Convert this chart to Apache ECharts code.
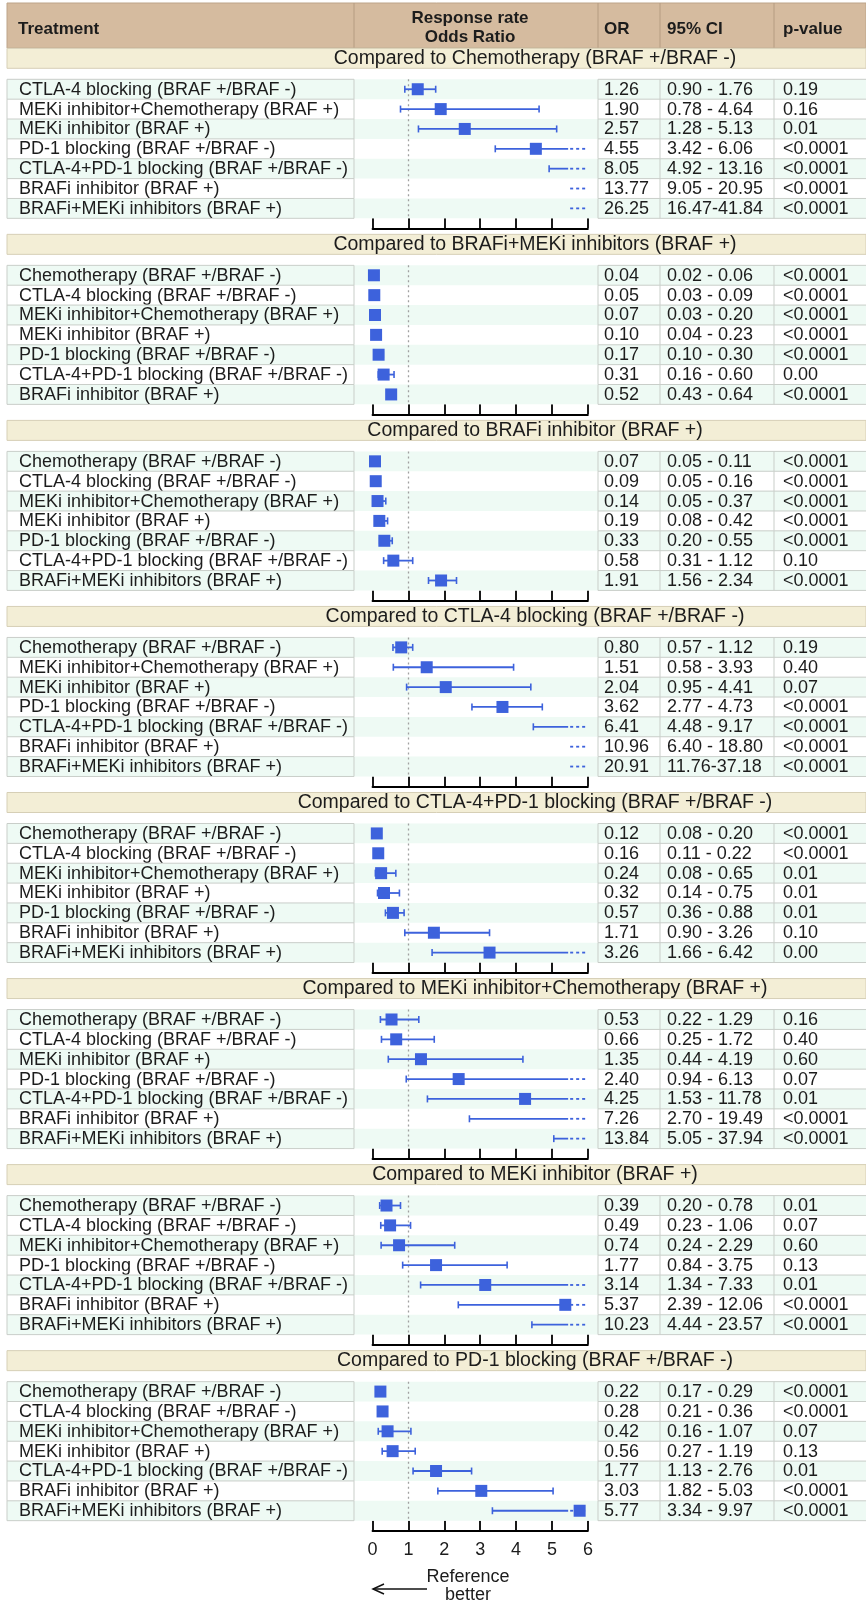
<!DOCTYPE html>
<html><head><meta charset="utf-8">
<script src="https://cdn.jsdelivr.net/npm/echarts@6/dist/echarts.min.js"></script>
<style>html,body{margin:0;padding:0;background:#fff}#c{width:866px;height:1608px}</style>
</head><body><div id="c"></div>
<script>
// ---------------- DATA ----------------
const groupTitles = [
  'Compared to Chemotherapy (BRAF +/BRAF -)',
  'Compared to BRAFi+MEKi inhibitors (BRAF +)',
  'Compared to BRAFi inhibitor (BRAF +)',
  'Compared to CTLA-4 blocking (BRAF +/BRAF -)',
  'Compared to CTLA-4+PD-1 blocking (BRAF +/BRAF -)',
  'Compared to MEKi inhibitor+Chemotherapy (BRAF +)',
  'Compared to MEKi inhibitor (BRAF +)',
  'Compared to PD-1 blocking (BRAF +/BRAF -)'
];
const rowNames = [
  ['CTLA-4 blocking (BRAF +/BRAF -)','MEKi inhibitor+Chemotherapy (BRAF +)','MEKi inhibitor (BRAF +)','PD-1 blocking (BRAF +/BRAF -)','CTLA-4+PD-1 blocking (BRAF +/BRAF -)','BRAFi inhibitor (BRAF +)','BRAFi+MEKi inhibitors (BRAF +)'],
  ['Chemotherapy (BRAF +/BRAF -)','CTLA-4 blocking (BRAF +/BRAF -)','MEKi inhibitor+Chemotherapy (BRAF +)','MEKi inhibitor (BRAF +)','PD-1 blocking (BRAF +/BRAF -)','CTLA-4+PD-1 blocking (BRAF +/BRAF -)','BRAFi inhibitor (BRAF +)'],
  ['Chemotherapy (BRAF +/BRAF -)','CTLA-4 blocking (BRAF +/BRAF -)','MEKi inhibitor+Chemotherapy (BRAF +)','MEKi inhibitor (BRAF +)','PD-1 blocking (BRAF +/BRAF -)','CTLA-4+PD-1 blocking (BRAF +/BRAF -)','BRAFi+MEKi inhibitors (BRAF +)'],
  ['Chemotherapy (BRAF +/BRAF -)','MEKi inhibitor+Chemotherapy (BRAF +)','MEKi inhibitor (BRAF +)','PD-1 blocking (BRAF +/BRAF -)','CTLA-4+PD-1 blocking (BRAF +/BRAF -)','BRAFi inhibitor (BRAF +)','BRAFi+MEKi inhibitors (BRAF +)'],
  ['Chemotherapy (BRAF +/BRAF -)','CTLA-4 blocking (BRAF +/BRAF -)','MEKi inhibitor+Chemotherapy (BRAF +)','MEKi inhibitor (BRAF +)','PD-1 blocking (BRAF +/BRAF -)','BRAFi inhibitor (BRAF +)','BRAFi+MEKi inhibitors (BRAF +)'],
  ['Chemotherapy (BRAF +/BRAF -)','CTLA-4 blocking (BRAF +/BRAF -)','MEKi inhibitor (BRAF +)','PD-1 blocking (BRAF +/BRAF -)','CTLA-4+PD-1 blocking (BRAF +/BRAF -)','BRAFi inhibitor (BRAF +)','BRAFi+MEKi inhibitors (BRAF +)'],
  ['Chemotherapy (BRAF +/BRAF -)','CTLA-4 blocking (BRAF +/BRAF -)','MEKi inhibitor+Chemotherapy (BRAF +)','PD-1 blocking (BRAF +/BRAF -)','CTLA-4+PD-1 blocking (BRAF +/BRAF -)','BRAFi inhibitor (BRAF +)','BRAFi+MEKi inhibitors (BRAF +)'],
  ['Chemotherapy (BRAF +/BRAF -)','CTLA-4 blocking (BRAF +/BRAF -)','MEKi inhibitor+Chemotherapy (BRAF +)','MEKi inhibitor (BRAF +)','CTLA-4+PD-1 blocking (BRAF +/BRAF -)','BRAFi inhibitor (BRAF +)','BRAFi+MEKi inhibitors (BRAF +)']
];
const orValues = [
  [1.26,1.90,2.57,4.55,8.05,13.77,26.25],
  [0.04,0.05,0.07,0.10,0.17,0.31,0.52],
  [0.07,0.09,0.14,0.19,0.33,0.58,1.91],
  [0.80,1.51,2.04,3.62,6.41,10.96,20.91],
  [0.12,0.16,0.24,0.32,0.57,1.71,3.26],
  [0.53,0.66,1.35,2.40,4.25,7.26,13.84],
  [0.39,0.49,0.74,1.77,3.14,5.37,10.23],
  [0.22,0.28,0.42,0.56,1.77,3.03,5.77]
];
const ciLow = [
  [0.90,0.78,1.28,3.42,4.92,9.05,16.47],
  [0.02,0.03,0.03,0.04,0.10,0.16,0.43],
  [0.05,0.05,0.05,0.08,0.20,0.31,1.56],
  [0.57,0.58,0.95,2.77,4.48,6.40,11.76],
  [0.08,0.11,0.08,0.14,0.36,0.90,1.66],
  [0.22,0.25,0.44,0.94,1.53,2.70,5.05],
  [0.20,0.23,0.24,0.84,1.34,2.39,4.44],
  [0.17,0.21,0.16,0.27,1.13,1.82,3.34]
];
const ciHigh = [
  [1.76,4.64,5.13,6.06,13.16,20.95,41.84],
  [0.06,0.09,0.20,0.23,0.30,0.60,0.64],
  [0.11,0.16,0.37,0.42,0.55,1.12,2.34],
  [1.12,3.93,4.41,4.73,9.17,18.80,37.18],
  [0.20,0.22,0.65,0.75,0.88,3.26,6.42],
  [1.29,1.72,4.19,6.13,11.78,19.49,37.94],
  [0.78,1.06,2.29,3.75,7.33,12.06,23.57],
  [0.29,0.36,1.07,1.19,2.76,5.03,9.97]
];
const pLabels = [
  ['0.19','0.16','0.01','<0.0001','<0.0001','<0.0001','<0.0001'],
  ['<0.0001','<0.0001','<0.0001','<0.0001','<0.0001','0.00','<0.0001'],
  ['<0.0001','<0.0001','<0.0001','<0.0001','<0.0001','0.10','<0.0001'],
  ['0.19','0.40','0.07','<0.0001','<0.0001','<0.0001','<0.0001'],
  ['<0.0001','<0.0001','0.01','0.01','0.01','0.10','0.00'],
  ['0.16','0.40','0.60','0.07','0.01','<0.0001','<0.0001'],
  ['0.01','0.07','0.60','0.13','0.01','<0.0001','<0.0001'],
  ['<0.0001','<0.0001','0.07','0.13','0.01','<0.0001','<0.0001']
];
const xTicks = [0,1,2,3,4,5,6];
const headerLabels = ['Treatment','Response rate\nOdds Ratio','OR','95% CI','p-value'];
const refLabel = 'Reference\nbetter';

// ---------------- LAYOUT ----------------
const FONT = "'Liberation Sans', Arial, sans-serif";
const ROW0 = 79.3, PERIOD = 186.05, ROWH = 19.86, NROW = 7;
const X0 = 372.5, UNIT = 35.9;
const XMIN = xTicks[0], XMAX = xTicks[xTicks.length-1];
const TAIL = 5.45;
const TL = 7, TR = 866, C1 = 354, C2 = 598, C3 = 660, C4 = 774;
const BLUE = '#3d62dc', MINT = '#eefaf4', GRID = '#c9cec9', TXT = '#1c1c1c';

function ciText(lo, hi){
  return (lo >= 10 && hi >= 10) ? lo.toFixed(2)+'-'+hi.toFixed(2) : lo.toFixed(2)+' - '+hi.toFixed(2);
}
function txt(x, y, s, font, align){
  return {type:'text', silent:true, style:{x:x, y:y, text:s, font:font, fill:TXT,
    textAlign:align||'left', textVerticalAlign:'middle', align:align||'left', verticalAlign:'middle'}};
}
function ln(x1,y1,x2,y2,color,w,dash){
  return {type:'line', silent:true, shape:{x1:x1,y1:y1,x2:x2,y2:y2},
    style:{stroke:color, lineWidth:w, lineDash:dash||null}};
}

const grids = [], xAxes = [], yAxes = [], series = [], graphics = [];

// header
graphics.push({type:'rect', shape:{x:TL, y:3, width:TR-TL, height:45}, style:{fill:'#d5bb9f', stroke:'#bda489', lineWidth:1}, silent:true});
[C1,C2,C3,C4].forEach(x => graphics.push(ln(x,3,x,48,'#b59c81',1)));
const hb = 'bold 17px ' + FONT;
graphics.push(txt(18, 29, headerLabels[0], hb));
graphics.push({type:'text', silent:true, style:{x:470, y:28, text:headerLabels[1], font:hb, fill:TXT, lineHeight:19,
  textAlign:'center', textVerticalAlign:'middle', align:'center', verticalAlign:'middle'}});
graphics.push(txt(604, 29, headerLabels[2], hb));
graphics.push(txt(667, 29, headerLabels[3], hb));
graphics.push(txt(783, 29, headerLabels[4], hb));

for (let g = 0; g < groupTitles.length; g++) {
  const top = ROW0 + g*PERIOD;
  graphics.push({type:'rect', silent:true, shape:{x:TL, y:top-31, width:TR-TL, height:20},
    style:{fill:'#f3eed6', stroke:'#d6cfb6', lineWidth:1}});
  graphics.push(txt(535, top-21, groupTitles[g], '19.5px ' + FONT, 'center'));

  grids.push({left:X0, top:top, width:UNIT*(XMAX-XMIN), height:ROWH*NROW, containLabel:false});
  const last = g === groupTitles.length-1;
  xAxes.push({type:'value', gridIndex:g, min:XMIN, max:XMAX, interval:1, offset:10,
    axisLine:{show:true, onZero:false, lineStyle:{color:'#000', width:1.8}},
    axisTick:{show:true, inside:true, length:10, lineStyle:{color:'#000', width:1.8}},
    axisLabel:{show:last, margin:10, fontSize:18, color:TXT, fontFamily:FONT,
      formatter: v => xTicks.indexOf(v) >= 0 ? String(v) : ''},
    splitLine:{show:false}});
  yAxes.push({type:'category', gridIndex:g, inverse:true, data:rowNames[g], show:false});

  const names = rowNames[g], ors = orValues[g], los = ciLow[g], his = ciHigh[g], ps = pLabels[g];
  series.push({
    type:'custom', xAxisIndex:g, yAxisIndex:g, z:1, clip:false, silent:true,
    encode:{x:0, y:1},
    data: names.map((n,i) => [0, i]),
    renderItem: function(params, api){
      const i = params.dataIndex;
      const yc = api.coord([0, i])[1];
      const h = api.size([0, 1])[1];
      const y0 = yc - h/2, y1 = yc + h/2;
      const ch = [];
      if (i % 2 === 0) ch.push({type:'rect', silent:true, shape:{x:TL, y:y0, width:TR-TL, height:h}, style:{fill:MINT}});
      ch.push(ln(TL, y0, C1, y0, GRID, 1));
      ch.push(ln(C2, y0, TR, y0, GRID, 1));
      if (i === NROW-1){ ch.push(ln(TL, y1, C1, y1, GRID, 1)); ch.push(ln(C2, y1, TR, y1, GRID, 1)); }
      [TL, C1, C2, C3, C4].forEach(x => ch.push(ln(x, y0, x, y1, GRID, 1)));
      const f = '18px ' + FONT;
      ch.push(txt(19, yc+0.5, names[i], f));
      ch.push(txt(604, yc+0.5, ors[i].toFixed(2), f));
      ch.push(txt(667, yc+0.5, ciText(los[i], his[i]), f));
      ch.push(txt(783, yc+0.5, ps[i], f));
      return {type:'group', children:ch};
    },
    markLine:{silent:true, symbol:['none','none'], z:2, label:{show:false},
      lineStyle:{color:'#a0a0a0', type:[2,3], width:1.3}, emphasis:{disabled:true},
      data:[{xAxis:1}]}
  });
  series.push({
    type:'custom', xAxisIndex:g, yAxisIndex:g, z:10, clip:false, silent:true,
    encode:{x:[0,1,2], y:3},
    data: ors.map((o,i) => [o, los[i], his[i], i]),
    renderItem: function(params, api){
      const o = api.value(0), lo = api.value(1), hi = api.value(2), i = api.value(3);
      const yc = api.coord([0, i])[1];
      const px = v => api.coord([v, i])[0];
      const ch = [];
      const capH = 3.5;
      if (hi > XMAX) {
        if (lo < TAIL) {
          ch.push(ln(px(lo), yc, px(TAIL), yc, BLUE, 1.8));
          ch.push(ln(px(lo), yc-capH, px(lo), yc+capH, BLUE, 1.6));
        }
        ch.push(ln(px(TAIL)+2, yc, px(XMAX), yc, BLUE, 1.8, [3,3]));
      } else {
        ch.push(ln(px(lo), yc, px(hi), yc, BLUE, 1.8));
        ch.push(ln(px(lo), yc-capH, px(lo), yc+capH, BLUE, 1.6));
        ch.push(ln(px(hi), yc-capH, px(hi), yc+capH, BLUE, 1.6));
      }
      if (o <= XMAX) {
        const s = 12;
        ch.push({type:'rect', silent:true, shape:{x:px(o)-s/2, y:yc-s/2, width:s, height:s}, style:{fill:BLUE}});
      }
      return {type:'group', children:ch};
    }
  });
}

// reference arrow
const ay = 1589, ax0 = 373, ax1 = 427;
graphics.push(ln(ax0, ay, ax1, ay, '#111', 1.5));
graphics.push({type:'polyline', silent:true, shape:{points:[[ax0+11, ay-5],[ax0, ay],[ax0+11, ay+5]]}, style:{stroke:'#111', lineWidth:1.5, fill:null}});
graphics.push({type:'text', silent:true, style:{x:468, y:1586, text:refLabel, font:'18px '+FONT, fill:TXT, lineHeight:18,
  textAlign:'center', textVerticalAlign:'middle', align:'center', verticalAlign:'middle'}});

const chart = echarts.init(document.getElementById('c'), null, {renderer:'canvas'});
chart.setOption({
  animation:false,
  backgroundColor:'#ffffff',
  grid: grids, xAxis: xAxes, yAxis: yAxes, series: series,
  graphic: {elements: graphics}
});
</script></body></html>
